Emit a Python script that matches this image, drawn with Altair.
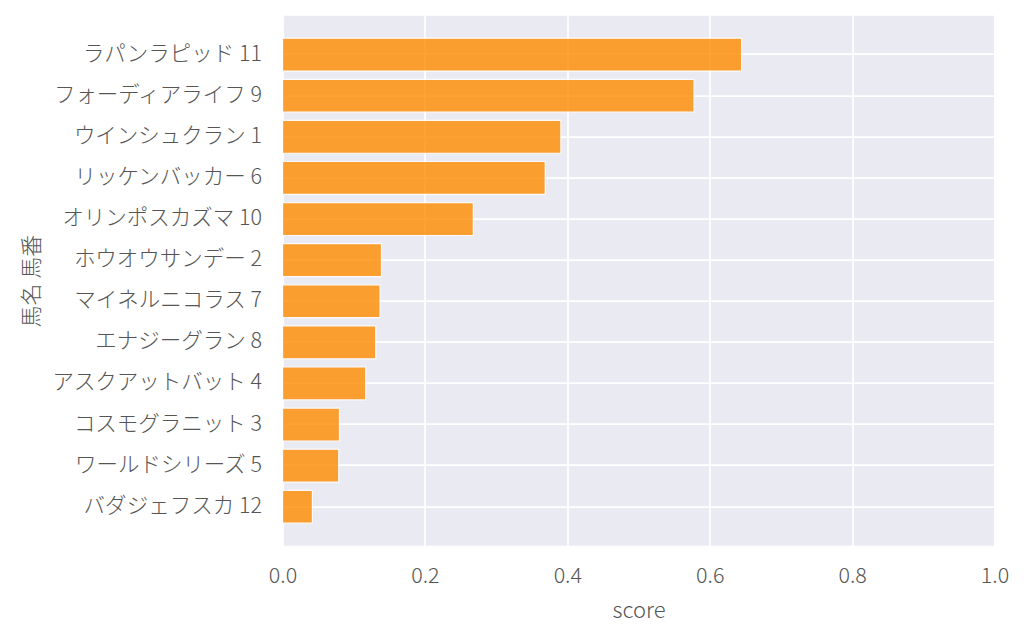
import altair as alt
import pandas as pd

names = [
    "ラパンラピッド 11",
    "フォーディアライフ 9",
    "ウインシュクラン 1",
    "リッケンバッカー 6",
    "オリンポスカズマ 10",
    "ホウオウサンデー 2",
    "マイネルニコラス 7",
    "エナジーグラン 8",
    "アスクアットバット 4",
    "コスモグラニット 3",
    "ワールドシリーズ 5",
    "バダジェフスカ 12",
]
scores = [0.645, 0.578, 0.391, 0.369, 0.268, 0.139, 0.137, 0.131, 0.117, 0.080, 0.079, 0.042]
x_ticks = [0.0, 0.2, 0.4, 0.6, 0.8, 1.0]

df = pd.DataFrame({"name": names, "score": scores})

FONT = "Noto Sans CJK JP Light, Noto Sans CJK JP DemiLight, Noto Sans CJK JP"
TXT = "#555555"

chart = (
    alt.Chart(df)
    .mark_bar(color="#FF8C00", opacity=0.8, stroke="white", strokeWidth=1.2)
    .encode(
        x=alt.X(
            "score:Q",
            title="score",
            scale=alt.Scale(domain=[0, 1], nice=False, zero=True),
            axis=alt.Axis(
                values=x_ticks,
                format=".1f",
                grid=True,
                gridColor="white",
                gridWidth=1.7,
                domain=False,
                ticks=False,
                labelFlush=False,
                labelFont=FONT,
                labelFontSize=21.5,
                labelFontWeight=300,
                labelColor=TXT,
                labelPadding=20,
                titleFont=FONT,
                titleFontSize=22,
                titleFontWeight=300,
                titleColor=TXT,
                titlePadding=13,
            ),
        ),
        y=alt.Y(
            "name:N",
            title="馬名 馬番",
            sort=names,
            scale=alt.Scale(paddingInner=0.2, paddingOuter=0.547),
            axis=alt.Axis(
                grid=True,
                gridColor="white",
                gridWidth=1.7,
                domain=False,
                ticks=False,
                labelLimit=400,
                labelFont=FONT,
                labelFontSize=21.5,
                labelFontWeight=300,
                labelColor=TXT,
                labelPadding=21,
                titleFont=FONT,
                titleFontSize=22,
                titleFontWeight=300,
                titleColor=TXT,
                titleAngle=-90,
                titleAlign="center",
                titleBaseline="middle",
                titleX=-251,
                titleY=265,
            ),
        ),
    )
    .properties(
        width=712,
        height=530,
        background="white",
        autosize=alt.AutoSizeParams(type="none"),
        padding={"left": 274.5, "top": 7.7, "right": 21, "bottom": 84},
    )
    .configure_view(fill="#EAEAF2", strokeWidth=0)
)

chart.save("out.html", embed_options={"renderer": "svg", "actions": False})
